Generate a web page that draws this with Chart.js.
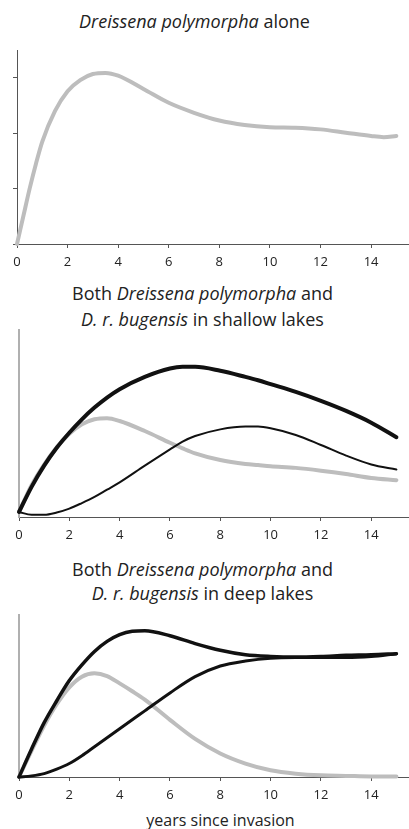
<!DOCTYPE html>
<html><head><meta charset="utf-8">
<script src="https://cdn.jsdelivr.net/npm/chart.js@4.4.1/dist/chart.umd.min.js"></script>
<style>
html,body{margin:0;padding:0;background:#fff}
body{width:409px;height:829px;position:relative;overflow:hidden;font-family:"Open Sans",Lato,sans-serif;color:#222}
.t{position:absolute;left:0;width:409px;text-align:center;font-size:18px;white-space:nowrap}
canvas{position:absolute;left:0}
</style></head><body>
<div class="t" style="top:9px;left:-10px;line-height:24px"><i>Dreissena polymorpha</i> alone</div>
<div class="t" style="top:281px;left:-2px;line-height:25.5px">Both <i>Dreissena polymorpha</i> and<br><i>D. r. bugensis</i> in shallow lakes</div>
<div class="t" style="top:557px;left:-2px;line-height:24px">Both <i>Dreissena polymorpha</i> and<br><i>D. r. bugensis</i> in deep lakes</div>
<div class="t" style="top:809px;left:16px;line-height:22px;font-size:16px">years since invasion</div>
<canvas id="c1" width="409" height="234" style="top:40px"></canvas>
<canvas id="c2" width="409" height="225" style="top:322px"></canvas>
<canvas id="c3" width="409" height="200" style="top:607px"></canvas>
<script>
// x-axis tick labels (years)
const xTicks = [0, 2, 4, 6, 8, 10, 12, 14];
const yTicksAlone = [0, 1, 2, 3];

// Panel 1: Dreissena polymorpha alone
const yearsAlone = [0,0.25,0.5,0.75,1,1.5,2,2.5,3,3.5,4,5,6,7,8,9,10,11,12,13,14,14.5,15];
const polymorphaAlone = [0,0.5,1.0,1.45,1.85,2.4,2.76,2.96,3.07,3.09,3.04,2.80,2.55,2.37,2.23,2.15,2.11,2.10,2.07,2.01,1.95,1.93,1.95];

// Panel 2: shallow lakes
const yearsShallow = [0,0.5,1,1.5,2,2.5,3,3.5,4,5,6,6.5,7,8,9,9.5,10,11,12,13,14,15];
const totalShallow = [0,0.45,0.83,1.15,1.42,1.66,1.87,2.05,2.2,2.42,2.57,2.6,2.6,2.53,2.42,2.36,2.29,2.15,1.99,1.81,1.6,1.34];
const polymorphaShallow = [0,0.48,0.85,1.16,1.40,1.57,1.66,1.68,1.63,1.45,1.24,1.14,1.05,0.93,0.86,0.84,0.82,0.79,0.74,0.68,0.61,0.57];
const bugensisShallow = [0,-0.05,-0.05,-0.01,0.06,0.16,0.27,0.4,0.53,0.83,1.12,1.26,1.36,1.48,1.53,1.53,1.50,1.38,1.20,1.01,0.85,0.76];

// Panel 3: deep lakes
const yearsDeep = [0,0.5,1,1.5,2,2.5,3,3.5,4,4.5,5,6,7,8,9,10,11,12,13,14,15];
const totalDeep = [0,0.5,0.97,1.36,1.72,2.0,2.24,2.42,2.54,2.6,2.61,2.52,2.38,2.26,2.18,2.15,2.14,2.15,2.17,2.18,2.2];
const polymorphaDeep = [0,0.47,0.92,1.30,1.60,1.79,1.85,1.80,1.67,1.53,1.38,1.02,0.68,0.42,0.24,0.12,0.06,0.03,0.02,0.01,0.01];
const bugensisDeep = [0,0.02,0.06,0.14,0.24,0.38,0.54,0.70,0.86,1.02,1.18,1.50,1.79,1.98,2.07,2.12,2.13,2.13,2.13,2.15,2.2];

const GRAY = '#bdbdbd', BLACK = '#111111', AXIS = '#555555';

function makeChart(id, years, series, cfg) {
  new Chart(document.getElementById(id), {
    type: 'line',
    data: {
      datasets: series.map(s => ({
        data: years.map((x, i) => ({x: x, y: s.values[i]})),
        borderColor: s.color, borderWidth: s.width, pointRadius: 0,
        cubicInterpolationMode: 'monotone', borderCapStyle: 'round', borderJoinStyle: 'round',
        fill: false, clip: false
      }))
    },
    options: {
      responsive: false, animation: false, events: [],
      layout: {padding: {top: 8, right: 0, left: 0, bottom: 0}},
      plugins: {legend: {display: false}, tooltip: {enabled: false}, title: {display: false}},
      scales: {
        x: {
          type: 'linear', min: 0, max: 15.5,
          afterBuildTicks: s => { s.ticks = xTicks.map(v => ({value: v})); },
          afterFit: s => { s.height = 30; },
          grid: {drawOnChartArea: false, drawTicks: true, tickLength: 4, color: AXIS},
          border: {display: true, color: AXIS, width: 1},
          ticks: {font: {family: 'Open Sans', size: 13}, color: '#222', padding: 6, maxRotation: 0, autoSkip: false}
        },
        y: {
          type: 'linear', min: cfg.ymin, max: cfg.ymax,
          afterBuildTicks: s => { s.ticks = (cfg.yTicks || []).map(v => ({value: v})); },
          afterFit: s => { s.width = cfg.left; },
          grid: {display: !!cfg.yTicks, drawOnChartArea: false, drawTicks: true, tickLength: 4, color: AXIS},
          border: {display: true, color: cfg.yAxisColor, width: cfg.yAxisWidth},
          ticks: {display: !!cfg.yTicks, callback: () => ''}
        }
      }
    }
  });
}

makeChart('c1', yearsAlone, [
  {values: polymorphaAlone, color: GRAY, width: 4}
], {ymin: 0, ymax: 3.5, yTicks: yTicksAlone, left: 17, yAxisColor: AXIS, yAxisWidth: 1});

makeChart('c2', yearsShallow, [
  {values: totalShallow, color: BLACK, width: 4},
  {values: bugensisShallow, color: BLACK, width: 2},
  {values: polymorphaShallow, color: GRAY, width: 4}
], {ymin: -0.09, ymax: 3.26, left: 19, yAxisColor: '#b0b0b0', yAxisWidth: 2});

makeChart('c3', yearsDeep, [
  {values: totalDeep, color: BLACK, width: 3.5},
  {values: bugensisDeep, color: BLACK, width: 3},
  {values: polymorphaDeep, color: GRAY, width: 4}
], {ymin: 0, ymax: 2.89, left: 19, yAxisColor: '#b0b0b0', yAxisWidth: 2});
</script>
</body></html>
